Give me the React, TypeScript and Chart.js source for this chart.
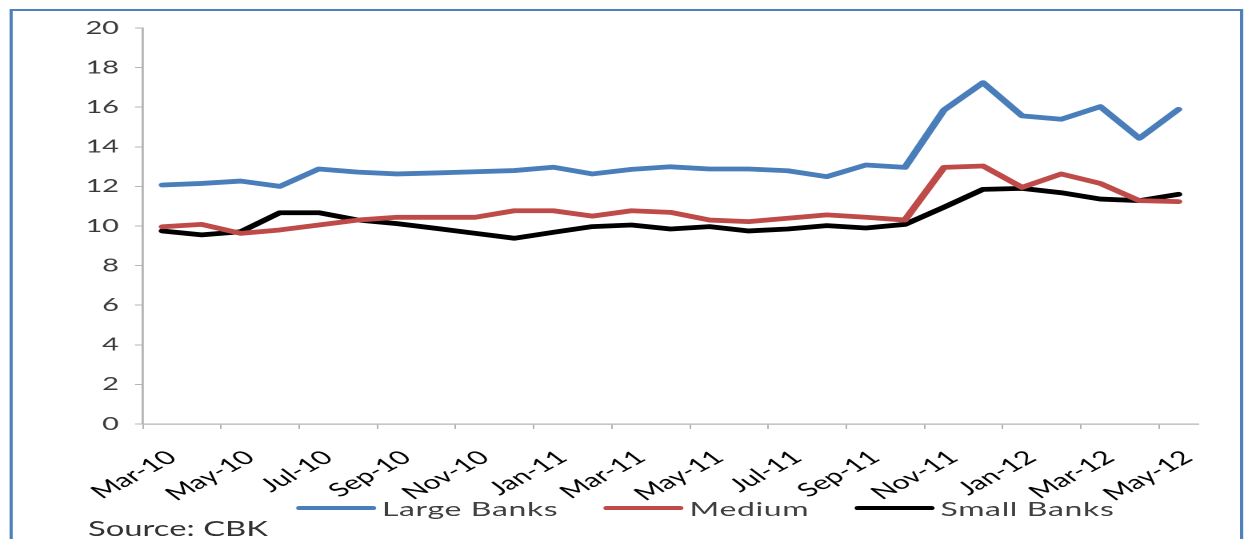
import React, { useEffect, useRef } from "react";
import { Chart, registerables } from "chart.js";

Chart.register(...registerables);

const categories = [
  "Mar-10", "Apr-10", "May-10", "Jun-10", "Jul-10", "Aug-10", "Sep-10", "Oct-10", "Nov-10",
  "Dec-10", "Jan-11", "Feb-11", "Mar-11", "Apr-11", "May-11", "Jun-11", "Jul-11", "Aug-11",
  "Sep-11", "Oct-11", "Nov-11", "Dec-11", "Jan-12", "Feb-12", "Mar-12", "Apr-12", "May-12",
];

const largeBanks = [
  12.07, 12.15, 12.27, 12.0, 12.88, 12.72, 12.63, 12.68, 12.74, 12.8, 12.97, 12.63, 12.86,
  12.99, 12.88, 12.88, 12.79, 12.49, 13.08, 12.96, 15.86, 17.24, 15.56, 15.39, 16.03, 14.43, 15.89,
];

const medium = [
  9.96, 10.08, 9.63, 9.8, 10.05, 10.3, 10.44, 10.44, 10.44, 10.77, 10.77, 10.5, 10.77,
  10.69, 10.3, 10.22, 10.39, 10.56, 10.44, 10.3, 12.96, 13.03, 11.95, 12.63, 12.15, 11.28, 11.23,
];

const smallBanks = [
  9.75, 9.55, 9.71, 10.67, 10.67, 10.3, 10.12, 9.88, 9.63, 9.38, 9.68, 9.97, 10.05,
  9.85, 9.97, 9.75, 9.85, 10.02, 9.9, 10.08, 10.95, 11.85, 11.9, 11.68, 11.36, 11.28, 11.6,
];

const seriesNames = ["Large Banks", "Medium", "Small Banks"];
const seriesColors = ["#4a7ebb", "#be4b48", "#000000"];
const yTicks = { min: 0, max: 20, step: 2 };
const sourceText = "Source: CBK";

const S = 1.6; // horizontal stretch of the reference picture
const W = 783;
const H = 539;
const FONT = "Lato, 'Open Sans', sans-serif";

export default function App() {
  const canvasRef = useRef<HTMLCanvasElement | null>(null);

  useEffect(() => {
    if (!canvasRef.current) return;
    const chart = new Chart(canvasRef.current, {
      type: "line",
      data: {
        labels: categories,
        datasets: [largeBanks, medium, smallBanks].map((d, i) => ({
          label: seriesNames[i],
          data: d,
          borderColor: seriesColors[i],
          backgroundColor: seriesColors[i],
          borderWidth: 4.8,
          pointRadius: 0,
          tension: 0,
          borderCapStyle: "round",
          borderJoinStyle: "round",
        })),
      },
      options: {
        animation: false,
        responsive: true,
        maintainAspectRatio: false,
        devicePixelRatio: 2,
        layout: { padding: { left: 0, right: W - 1198 / S, top: 28, bottom: 0 } },
        plugins: { legend: { display: false }, tooltip: { enabled: false } },
        scales: {
          x: {
            type: "category",
            offset: true,
            grid: {
              offset: true,
              drawOnChartArea: false,
              tickLength: 5,
              color: (ctx: any) => (ctx.index % 2 === 0 ? "#b4b4b4" : "rgba(0,0,0,0)"),
            },
            border: { color: "#b4b4b4", width: 1.2 },
            ticks: {
              autoSkip: false,
              minRotation: 40,
              maxRotation: 40,
              padding: 17,
              labelOffset: 6,
              color: "#000000",
              font: { family: FONT, size: 19 },
              callback: (_v: any, i: number) => (i % 2 === 0 ? categories[i] : ""),
            },
            afterFit: (s: any) => {
              s.height = H - 424;
            },
          },
          y: {
            min: yTicks.min,
            max: yTicks.max,
            grid: { drawOnChartArea: false, tickLength: 5, color: "#b4b4b4" },
            border: { color: "#b4b4b4", width: 1.4 },
            ticks: {
              stepSize: yTicks.step,
              padding: 10,
              color: "#3a3a3a",
              font: { family: FONT, size: 18 },
            },
            afterFit: (s: any) => {
              s.width = 143 / S;
            },
          },
        },
      },
    });
    return () => chart.destroy();
  }, []);

  return (
    <div style={{ position: "fixed", left: 0, top: 0, width: 1252, height: H, overflow: "hidden", background: "#fff" }}>
      <div
        style={{
          position: "absolute",
          left: 0,
          top: 0,
          width: W,
          height: H,
          transform: `scaleX(${S})`,
          transformOrigin: "0 0",
          overflow: "hidden",
        }}
      >
        <div
          style={{
            position: "absolute",
            left: 6,
            top: 9,
            width: 771,
            height: 620,
            border: "2px solid #4f81bd",
            boxSizing: "border-box",
          }}
        />
        <div style={{ position: "absolute", left: 0, top: 0, width: W, height: H }}>
          <canvas ref={canvasRef} />
        </div>
        <div
          style={{
            position: "absolute",
            top: 497,
            left: 440.6,
            transform: "translateX(-50%)",
            display: "flex",
            alignItems: "center",
            whiteSpace: "nowrap",
            fontFamily: FONT,
            fontSize: 20,
            letterSpacing: "0.4px",
            color: "#404040",
            lineHeight: "22px",
          }}
        >
          {seriesNames.map((n, i) => (
            <div key={n} style={{ display: "flex", alignItems: "center", marginLeft: i === 0 ? 0 : 28 }}>
              <div style={{ width: 50, height: 4.5, background: seriesColors[i], borderRadius: 2, marginRight: 4 }} />
              <span>{n}</span>
            </div>
          ))}
        </div>
        <div
          style={{
            position: "absolute",
            left: 55,
            top: 515,
            fontFamily: FONT,
            fontSize: 20.5,
            lineHeight: "26px",
            color: "#333333",
            whiteSpace: "nowrap",
          }}
        >
          {sourceText}
        </div>
      </div>
    </div>
  );
}
